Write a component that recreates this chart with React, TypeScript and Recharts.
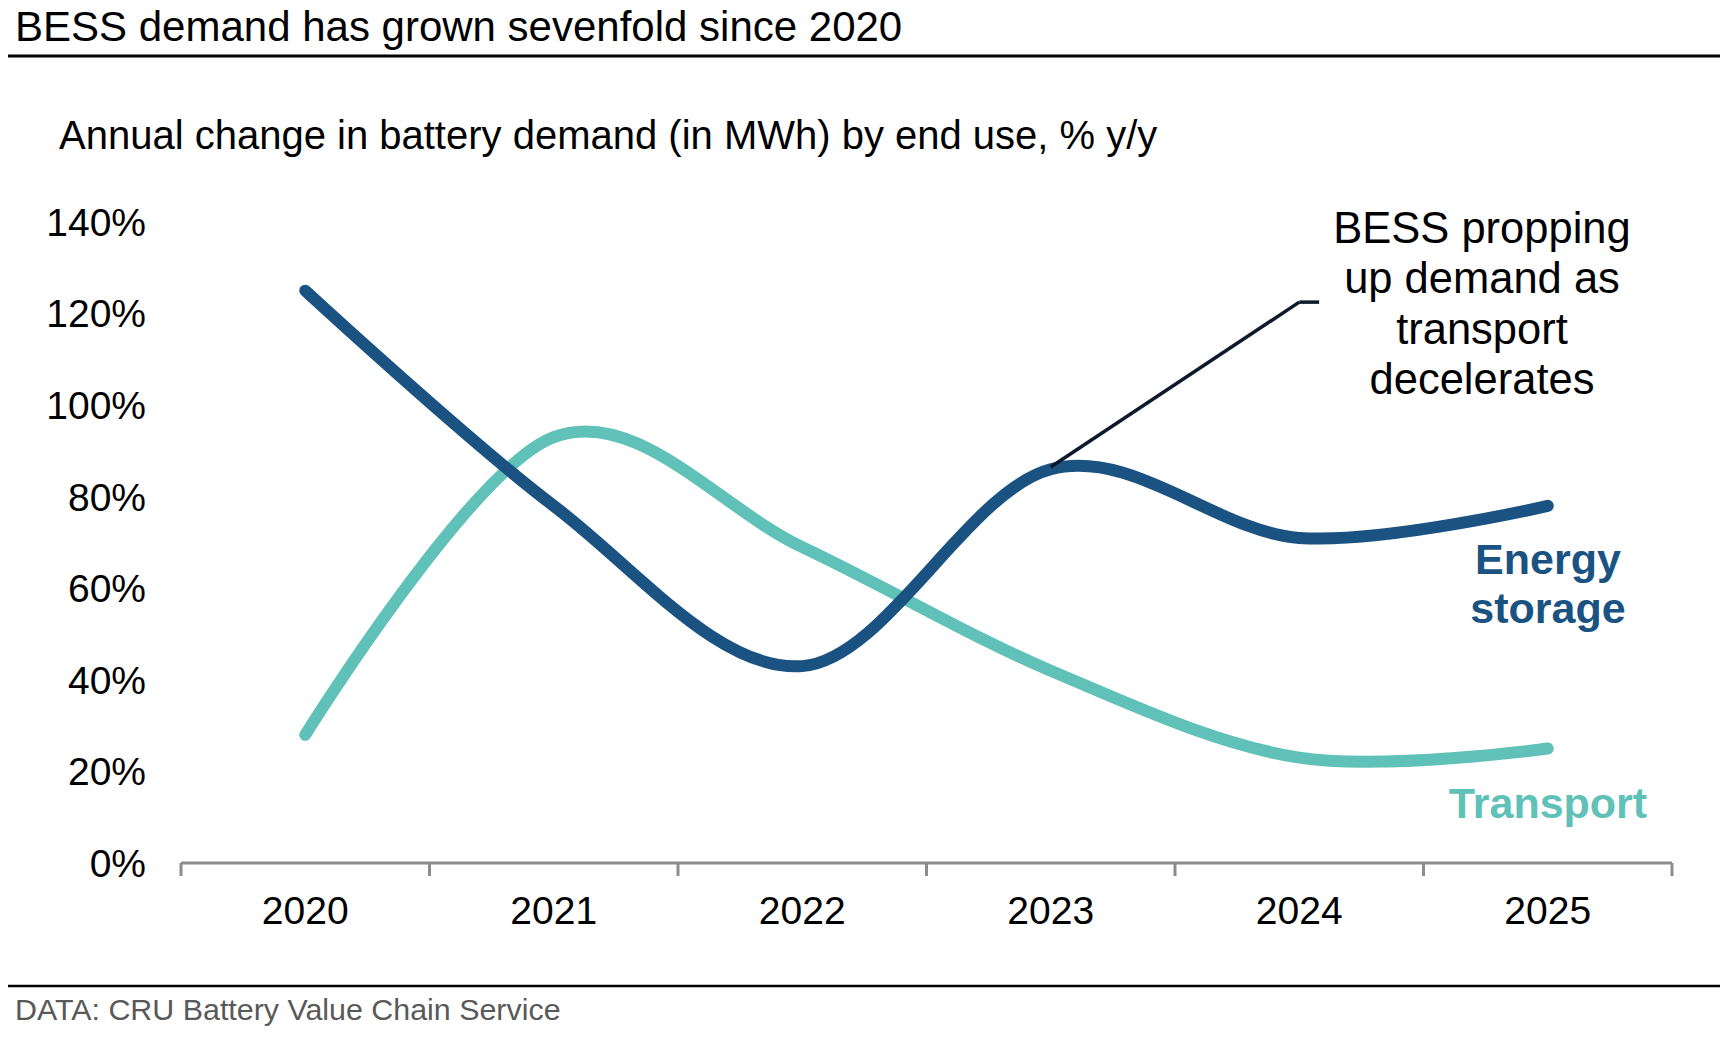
import { LineChart, Line, XAxis, YAxis, ReferenceLine } from "recharts";

// data (% y/y)
const years = [2020, 2021, 2022, 2023, 2024, 2025];
const energyStorage = [125, 78, 43, 86, 71, 78];
const transport = [28, 93, 69, 42, 23, 25];
const yTicks = [0, 20, 40, 60, 80, 100, 120, 140];
// tick marks sit between the years, labels on the years
const xTicks = [2019.5, 2020, 2020.5, 2021, 2021.5, 2022, 2022.5, 2023, 2023.5, 2024, 2024.5, 2025, 2025.5];

// annotation leader line, in data units
const calloutStart = { x: 2023, y: 86.5 };
const calloutElbow = { x: 2024, y: 122.5 };
const calloutEnd = { x: 2024.08, y: 122.5 };
const calloutText = ["BESS propping", "up demand as", "transport", "decelerates"];

const data = years.map((year, i) => ({
    year,
    energy: energyStorage[i],
    transport: transport[i],
}));

const FONT = '"Liberation Sans", Arial, sans-serif';
const DARK_BLUE = '#1A5282';
const TEAL = '#60C1B8';
const AXIS_GREY = '#8C8C8C';

// Excel-like smoothing (Catmull-Rom / cardinal with tension 0)
function excelSmooth(context: any) {
    const k = 1 / 6;
    let x0 = NaN, x1 = NaN, x2 = NaN, y0 = NaN, y1 = NaN, y2 = NaN;
    let n = 0;
    let line = NaN;
    const seg = (x: number, y: number) =>
        context.bezierCurveTo(
            x1 + k * (x2 - x0), y1 + k * (y2 - y0),
            x2 + k * (x1 - x), y2 + k * (y1 - y),
            x2, y2
        );
    return {
        areaStart() { line = 0; },
        areaEnd() { line = NaN; },
        lineStart() { x0 = x1 = x2 = y0 = y1 = y2 = NaN; n = 0; },
        lineEnd() {
            if (n === 2) context.lineTo(x2, y2);
            else if (n === 3) seg(x1, y1);
            if (line || (line !== 0 && n === 1)) context.closePath();
            line = 1 - line;
        },
        point(x: number, y: number) {
            x = +x; y = +y;
            if (n === 0) {
                n = 1;
                line ? context.lineTo(x, y) : context.moveTo(x, y);
            } else if (n === 1) {
                n = 2;
                x1 = x; y1 = y;
            } else {
                n = 3;
                seg(x, y);
            }
            x0 = x1; x1 = x2; x2 = x;
            y0 = y1; y1 = y2; y2 = y;
        },
    };
}

function YearTick({ x, y, payload }: any) {
    const v = payload.value as number;
    if (Number.isInteger(v)) {
        return (
            <text x={x} y={y + 61} textAnchor="middle" fontSize={39} fontFamily={FONT} fill="#000">
                {v}
            </text>
        );
    }
    return <line x1={x} x2={x} y1={y} y2={y + 13} stroke={AXIS_GREY} strokeWidth={3} />;
}

export default function App() {
    return (
        <div style={{ position: 'absolute', left: 0, top: 0, width: 1728, height: 1048, background: 'white', fontFamily: FONT }}>
            <LineChart
                width={1728}
                height={1048}
                data={data}
                margin={{ top: 222, right: 56, bottom: 125, left: 81 }}
            >
                <XAxis
                    dataKey="year"
                    type="number"
                    domain={[2019.5, 2025.5]}
                    ticks={xTicks}
                    interval={0}
                    height={60}
                    tickSize={0}
                    tickMargin={0}
                    tickLine={false}
                    axisLine={{ stroke: AXIS_GREY, strokeWidth: 3 }}
                    tick={<YearTick />}
                />
                <YAxis
                    type="number"
                    domain={[0, 140]}
                    ticks={yTicks}
                    width={100}
                    tickSize={0}
                    tickMargin={35}
                    axisLine={false}
                    tickLine={false}
                    tickFormatter={(v: number) => `${v}%`}
                    tick={{ fontSize: 39, fill: '#000', fontFamily: FONT }}
                />
                <Line
                    dataKey="transport"
                    type={excelSmooth as any}
                    stroke={TEAL}
                    strokeWidth={12}
                    strokeLinecap="round"
                    dot={false}
                    activeDot={false}
                    isAnimationActive={false}
                />
                <Line
                    dataKey="energy"
                    type={excelSmooth as any}
                    stroke={DARK_BLUE}
                    strokeWidth={12}
                    strokeLinecap="round"
                    dot={false}
                    activeDot={false}
                    isAnimationActive={false}
                />
                <ReferenceLine segment={[calloutStart, calloutElbow]} stroke="#0C1A2C" strokeWidth={3.5} ifOverflow="visible" />
                <ReferenceLine segment={[calloutElbow, calloutEnd]} stroke="#0C1A2C" strokeWidth={3.5} ifOverflow="visible" />
            </LineChart>

            <svg width={1728} height={1048} style={{ position: 'absolute', left: 0, top: 0, pointerEvents: 'none' }}>
                <text x={15} y={41} fontSize={42} fontFamily={FONT} fill="#000">BESS demand has grown sevenfold since 2020</text>
                <line x1={8} x2={1720} y1={56} y2={56} stroke="#000" strokeWidth={3} />
                <text x={59} y={149} fontSize={40} fontFamily={FONT} fill="#000">
                    Annual change in battery demand (in MWh) by end use, % y/y
                </text>

                {calloutText.map((t, i) => (
                    <text key={t} x={1482} y={243 + i * 50.3} textAnchor="middle" fontSize={43.5} fontFamily={FONT} fill="#000">
                        {t}
                    </text>
                ))}

                <text x={1548} y={574} textAnchor="middle" fontSize={43} fontWeight="bold" fontFamily={FONT} fill={DARK_BLUE}>Energy</text>
                <text x={1548} y={623} textAnchor="middle" fontSize={43} fontWeight="bold" fontFamily={FONT} fill={DARK_BLUE}>storage</text>
                <text x={1548} y={818} textAnchor="middle" fontSize={43} fontWeight="bold" fontFamily={FONT} fill={TEAL}>Transport</text>

                <line x1={8} x2={1720} y1={986} y2={986} stroke="#000" strokeWidth={2.5} />
                <text x={15} y={1020} fontSize={30.4} fontFamily={FONT} fill="#595959">DATA: CRU Battery Value Chain Service</text>
            </svg>
        </div>
    );
}
